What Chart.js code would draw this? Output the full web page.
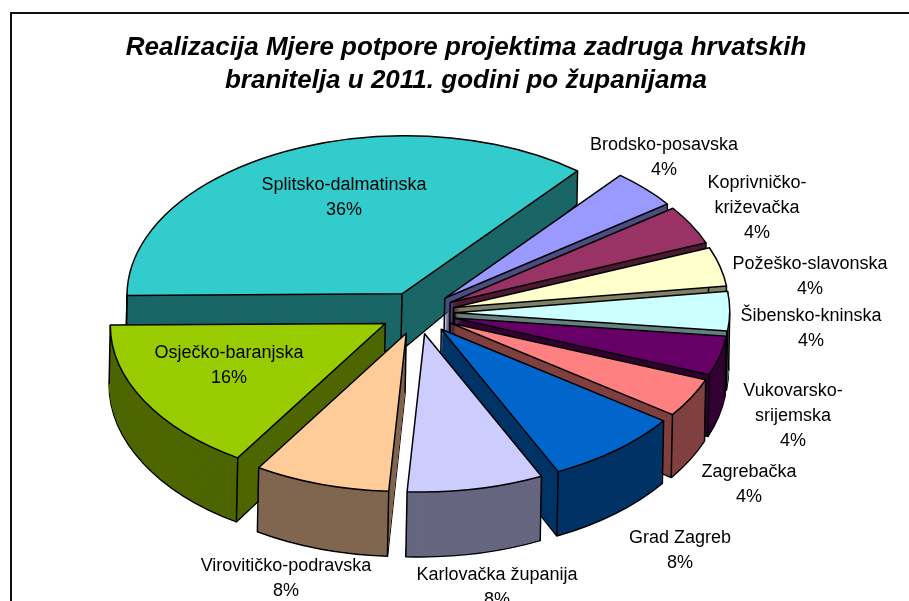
<!DOCTYPE html>
<html><head><meta charset="utf-8">
<style>
html,body{margin:0;padding:0;background:#fff;overflow:hidden;width:909px;height:601px}
#frame{position:absolute;left:10px;top:12px;width:899px;height:589px;border-left:2px solid #111;border-top:2px solid #111;box-sizing:border-box}
#c{position:absolute;left:23px;top:0}
</style>
<script src="https://cdn.jsdelivr.net/npm/chart.js@4"></script>
</head><body>
<div id="frame"></div>
<canvas id="c" width="886" height="601"></canvas>
<script>
const titleLines = ['Realizacija Mjere potpore projektima zadruga hrvatskih','branitelja u 2011. godini po županijama'];
const categories = ['Brodsko-posavska','Koprivničko-križevačka','Požeško-slavonska','Šibensko-kninska','Vukovarsko-srijemska','Zagrebačka','Grad Zagreb','Karlovačka županija','Virovitičko-podravska','Osječko-baranjska','Splitsko-dalmatinska'];
const shares = [4,4,4,4,4,4,8,8,8,16,36];
const topColors = ['#9999FF','#993366','#FFFFCC','#CCFFFF','#660066','#FF8080','#0066CC','#CCCCFF','#FFCC99','#99CC00','#33CCCC'];
const sideColors = ['#4D4D80','#4D1A33','#808066','#668080','#330033','#804040','#003366','#666680','#806650','#4D6600','#1A6666'];
const labelLines = [['Brodsko-posavska'],['Koprivničko-','križevačka'],['Požeško-slavonska'],['Šibensko-kninska'],['Vukovarsko-','srijemska'],['Zagrebačka'],['Grad Zagreb'],['Karlovačka županija'],['Virovitičko-podravska'],['Osječko-baranjska'],['Splitsko-dalmatinska']];
const labelAnchors = [[641,145],[734,183],[787,264],[788,316],[770,391],[726,472],[657,538],[474,575],[263,566],[206,353],[321,185]];
const LINE = 25, SQUASH = 0.575, EXPLODE = 37, CX = 395, CY = 313, RADIUS = 275, SHEAR = -0.02;

function depthAt(y){
  if (y < 293) return 33 + (y - 170) * 0.195;
  if (y < 378) return 57 + (y - 293) * 0.059;
  return Math.min(66, 62 + (y - 378) * 0.026);
}
const pie3d = {
  id:'pie3d',
  beforeDatasetDraw(chart, args){
    const ctx = chart.ctx, arcs = chart.getDatasetMeta(args.index).data;
    const order = arcs.map((a,i)=>i).sort((p,q)=>{
      const m = a=>Math.sin((a.startAngle+a.endAngle)/2);
      return m(arcs[p]) - m(arcs[q]);
    });
    ctx.save();
    ctx.transform(1,0,SHEAR,1,-SHEAR*300,0);
    order.forEach(i=>{
      const a = arcs[i], mid = (a.startAngle+a.endAngle)/2, saved = a.options;
      const ex = CX + EXPLODE*Math.cos(mid), ey = CY + SQUASH*EXPLODE*Math.sin(mid);
      const pt = ang => ang===null ? [ex,ey] : [ex + a.outerRadius*Math.cos(ang), ey + SQUASH*a.outerRadius*Math.sin(ang)];
      const verts = [pt(null), pt(a.startAngle), pt(a.endAngle)];
      for (const ext of [0,Math.PI,2*Math.PI,3*Math.PI]) if (ext>a.startAngle && ext<a.endAngle) verts.push(pt(ext));
      const ys = verts.map(v=>v[1]);
      for (let s=a.startAngle; s<a.endAngle; s+=0.05) ys.push(pt(s)[1]);
      const lo = Math.min(...ys), hi = Math.max(...ys);
      const q = hi>lo ? (depthAt(hi)-depthAt(lo))/(hi-lo) : 0, p = depthAt(lo)-q*lo;
      const place = t => {
        ctx.transform(1,0,0,1+t*q,0,t*p);
        ctx.translate(ex,ey); ctx.scale(1,SQUASH); ctx.translate(-a.x,-a.y);
      };
      const outline = () => {
        ctx.beginPath(); ctx.moveTo(a.x,a.y);
        ctx.arc(a.x,a.y,a.outerRadius,a.startAngle,a.endAngle);
        ctx.closePath();
      };
      const stroke = () => { ctx.lineWidth=1.5; ctx.strokeStyle='#000'; ctx.lineJoin='round'; ctx.stroke(); };
      const maxD = Math.ceil(depthAt(hi));
      a.options = Object.assign({}, saved, {backgroundColor:sideColors[i],borderWidth:0,offset:0});
      ctx.save(); place(1); a.draw(ctx); outline(); ctx.restore(); stroke();
      for (let k=maxD-1;k>=1;k--){ ctx.save(); place(k/maxD); a.draw(ctx); ctx.restore(); }
      verts.forEach(v=>{
        ctx.beginPath(); ctx.moveTo(v[0],v[1]);
        ctx.lineTo(v[0], v[1]+p+q*v[1]); stroke();
      });
      a.options = Object.assign({}, saved, {backgroundColor:topColors[i],borderWidth:0,offset:0});
      ctx.save(); place(0); a.draw(ctx); outline(); ctx.restore(); stroke();
      a.options = saved;
    });
    ctx.restore();
    return false;
  },
  afterDraw(chart){
    const ctx = chart.ctx;
    ctx.save();
    ctx.font = '18px "Liberation Sans", Arial, sans-serif';
    ctx.fillStyle = '#000'; ctx.textAlign='center'; ctx.textBaseline='middle';
    const total = shares.reduce((s,v)=>s+v,0);
    categories.forEach((c,i)=>{
      const lines = labelLines[i].concat([Math.round(shares[i]/total*100)+'%']);
      lines.forEach((t,j)=>ctx.fillText(t,labelAnchors[i][0],labelAnchors[i][1]+j*LINE));
    });
    ctx.restore();
  }
};
new Chart(document.getElementById('c'),{
  type:'pie',
  data:{labels:categories,datasets:[{data:shares,backgroundColor:topColors,borderWidth:0}]},
  options:{
    responsive:false,animation:false,rotation:39,radius:RADIUS,
    plugins:{
      legend:{display:false},tooltip:{enabled:false},
      title:{display:true,text:titleLines,color:'#000',padding:{top:31,bottom:0},
        font:{family:'"Liberation Sans", Arial, sans-serif',size:26,weight:'bold',style:'italic',lineHeight:1.27}}
    }
  },
  plugins:[pie3d]
});
</script>
</body></html>
